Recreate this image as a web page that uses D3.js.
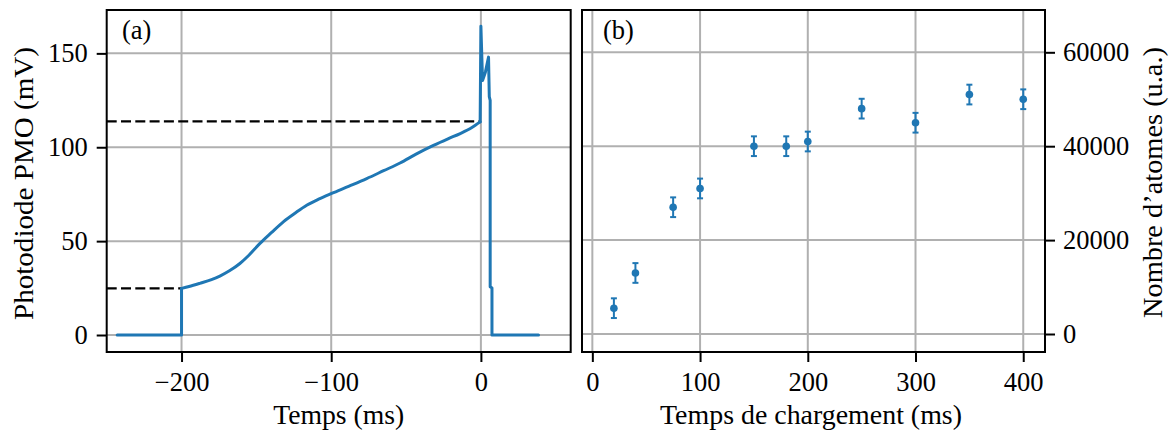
<!DOCTYPE html>
<html>
<head>
<meta charset="utf-8">
<script src="https://cdn.jsdelivr.net/npm/d3@7"></script>
<style>
  html, body { margin: 0; padding: 0; background: #fff; }
  svg { display: block; }
  text { font-family: "Liberation Serif", "DejaVu Serif", serif; fill: #000; }
</style>
</head>
<body>
<svg id="chart" width="1172" height="434"></svg>
<script>
// ---------- Panel (a): photodiode trace ----------
// smooth loading section (after the -200 ms switch-on, up to 0 ms)
const loadT  = [-200, -195, -187.8, -180, -174.4, -168, -161, -155, -147.6, -140, -132, -124, -116.4, -108, -99.7, -88, -76.3, -65, -54, -43, -31.7, -22, -13.8, -6, -0.5];
const loadMV = [24.8, 25.8, 27.5, 29.5, 31.4, 34.2, 38.1, 42.5, 48.8, 54.5, 60.3, 65, 69.1, 72.5, 75.4, 79.3, 83.3, 87.5, 91.6, 96.5, 101, 104.5, 107.3, 110.5, 113.5];
// baseline before switch-on
const preT  = [-243, -200, -200];
const preMV = [0, 0, 24.8];
// release spike and drop
const spikeT  = [-0.5, 0, 1.1, 3, 5.1, 5.6, 6.2, 6.2, 7.4, 7.4, 38.5];
const spikeMV = [113.5, 164.5, 135.6, 140, 148, 127, 125, 25.7, 25, 0, 0];
// dashed reference levels and where they end
const refLevels = [113.8, 24.8];
const refEnds   = [0, -200];
const xTicksA = [-200, -100, 0];
const yTicksA = [0, 50, 100, 150];

// ---------- Panel (b): atom number vs loading time ----------
const loadTime  = [20, 40, 75, 100, 150, 180, 200, 250, 300, 350, 400];
const atomCount = [5500, 13000, 27000, 31000, 40000, 40000, 41000, 48000, 45000, 51000, 50000];
const atomErr   = [2100, 2100, 2100, 2100, 2100, 2100, 2100, 2100, 2100, 2100, 2100];
const xTicksB = [0, 100, 200, 300, 400];
const yTicksB = [0, 20000, 40000, 60000];

const BLUE = "#1f77b4", GRID = "#b0b0b0", FS = 26.5;
const svg = d3.select("#chart");
svg.append("rect").attr("width", 1172).attr("height", 434).attr("fill", "#fff");

const yTop = 10, yBot = 352;
const xA = d3.scaleLinear().domain([-250, 60]).range([106.7, 570.7]);
const yA = d3.scaleLinear().domain([-9.05, 173.1]).range([yBot, yTop]);
const xB = d3.scaleLinear().domain([-9.6, 420.2]).range([582, 1045]);
const yB = d3.scaleLinear().domain([-3834, 69010]).range([yBot, yTop]);

function grid(g, xs, ys, xt, yt) {
  g.selectAll(".gx").data(xt).enter().append("line")
    .attr("x1", d => xs(d)).attr("x2", d => xs(d))
    .attr("y1", yTop).attr("y2", yBot)
    .attr("stroke", GRID).attr("stroke-width", 2);
  g.selectAll(".gy").data(yt).enter().append("line")
    .attr("x1", xs.range()[0]).attr("x2", xs.range()[1])
    .attr("y1", d => ys(d)).attr("y2", d => ys(d))
    .attr("stroke", GRID).attr("stroke-width", 2);
}
function styleAxis(g) {
  g.select(".domain").remove();
  g.selectAll(".tick line").attr("stroke", "#000").attr("stroke-width", 2);
  g.selectAll(".tick text").attr("font-size", FS)
    .attr("font-family", '"Liberation Serif", serif').attr("fill", "#000");
}

// ---- Panel A ----
const gA = svg.append("g");
grid(gA, xA, yA, xTicksA, yTicksA);
gA.selectAll(".ref").data(refLevels).enter().append("line")
  .attr("x1", xA(-250)).attr("x2", (d, i) => xA(refEnds[i]))
  .attr("y1", d => yA(d)).attr("y2", d => yA(d))
  .attr("stroke", "#000").attr("stroke-width", 2.2).attr("stroke-dasharray", "10,4.3");
const zip = (a, b) => a.map((t, i) => [t, b[i]]);
const lineLin = d3.line().x(d => xA(d[0])).y(d => yA(d[1]));
const lineSmooth = d3.line().x(d => xA(d[0])).y(d => yA(d[1])).curve(d3.curveMonotoneX);
[[zip(preT, preMV), lineLin], [zip(loadT, loadMV), lineSmooth], [zip(spikeT, spikeMV), lineLin]]
  .forEach(([data, gen]) => {
    gA.append("path").datum(data).attr("d", gen)
      .attr("fill", "none").attr("stroke", BLUE).attr("stroke-width", 3)
      .attr("stroke-linejoin", "round").attr("stroke-linecap", "round");
  });
gA.append("g").attr("transform", `translate(0,${yBot})`)
  .call(d3.axisBottom(xA).tickValues(xTicksA).tickSize(10).tickPadding(10)).call(styleAxis);
gA.append("g").attr("transform", `translate(${xA.range()[0]},0)`)
  .call(d3.axisLeft(yA).tickValues(yTicksA).tickSize(10).tickPadding(9)).call(styleAxis);
gA.append("rect").attr("x", 106.7).attr("y", yTop).attr("width", 570.7 - 106.7).attr("height", yBot - yTop)
  .attr("fill", "none").attr("stroke", "#000").attr("stroke-width", 2);
gA.append("text").attr("x", 122).attr("y", 39).attr("font-size", FS).text("(a)");
gA.append("text").attr("x", 338.7).attr("y", 424).attr("text-anchor", "middle")
  .attr("font-size", FS).attr("textLength", 131).attr("lengthAdjust", "spacingAndGlyphs").text("Temps (ms)");
gA.append("text").attr("transform", "translate(33,183.5) rotate(-90)").attr("text-anchor", "middle")
  .attr("font-size", FS).attr("textLength", 273).attr("lengthAdjust", "spacingAndGlyphs").text("Photodiode PMO (mV)");

// ---- Panel B ----
const gB = svg.append("g");
grid(gB, xB, yB, xTicksB, yTicksB);
const pts = loadTime.map((t, i) => ({t, n: atomCount[i], e: atomErr[i]}));
const eb = gB.selectAll(".eb").data(pts).enter().append("g");
eb.append("line").attr("x1", d => xB(d.t)).attr("x2", d => xB(d.t))
  .attr("y1", d => yB(d.n - d.e)).attr("y2", d => yB(d.n + d.e))
  .attr("stroke", BLUE).attr("stroke-width", 2);
eb.append("line").attr("x1", d => xB(d.t) - 3).attr("x2", d => xB(d.t) + 3)
  .attr("y1", d => yB(d.n - d.e)).attr("y2", d => yB(d.n - d.e))
  .attr("stroke", BLUE).attr("stroke-width", 2);
eb.append("line").attr("x1", d => xB(d.t) - 3).attr("x2", d => xB(d.t) + 3)
  .attr("y1", d => yB(d.n + d.e)).attr("y2", d => yB(d.n + d.e))
  .attr("stroke", BLUE).attr("stroke-width", 2);
eb.append("circle").attr("cx", d => xB(d.t)).attr("cy", d => yB(d.n)).attr("r", 3.8).attr("fill", BLUE);
gB.append("g").attr("transform", `translate(0,${yBot})`)
  .call(d3.axisBottom(xB).tickValues(xTicksB).tickSize(10).tickPadding(10)).call(styleAxis);
gB.append("g").attr("transform", `translate(${xB.range()[1]},0)`)
  .call(d3.axisRight(yB).tickValues(yTicksB).tickFormat(d3.format("d")).tickSize(10).tickPadding(8)).call(styleAxis);
gB.append("rect").attr("x", 582).attr("y", yTop).attr("width", 1045 - 582).attr("height", yBot - yTop)
  .attr("fill", "none").attr("stroke", "#000").attr("stroke-width", 2);
gB.append("text").attr("x", 603).attr("y", 39).attr("font-size", FS).text("(b)");
gB.append("text").attr("x", 811).attr("y", 424).attr("text-anchor", "middle")
  .attr("font-size", FS).attr("textLength", 302).attr("lengthAdjust", "spacingAndGlyphs").text("Temps de chargement (ms)");
gB.append("text").attr("transform", "translate(1162,182.5) rotate(-90)").attr("text-anchor", "middle")
  .attr("font-size", FS).attr("textLength", 271).attr("lengthAdjust", "spacingAndGlyphs").text("Nombre d’atomes (u.a.)");
</script>
</body>
</html>
